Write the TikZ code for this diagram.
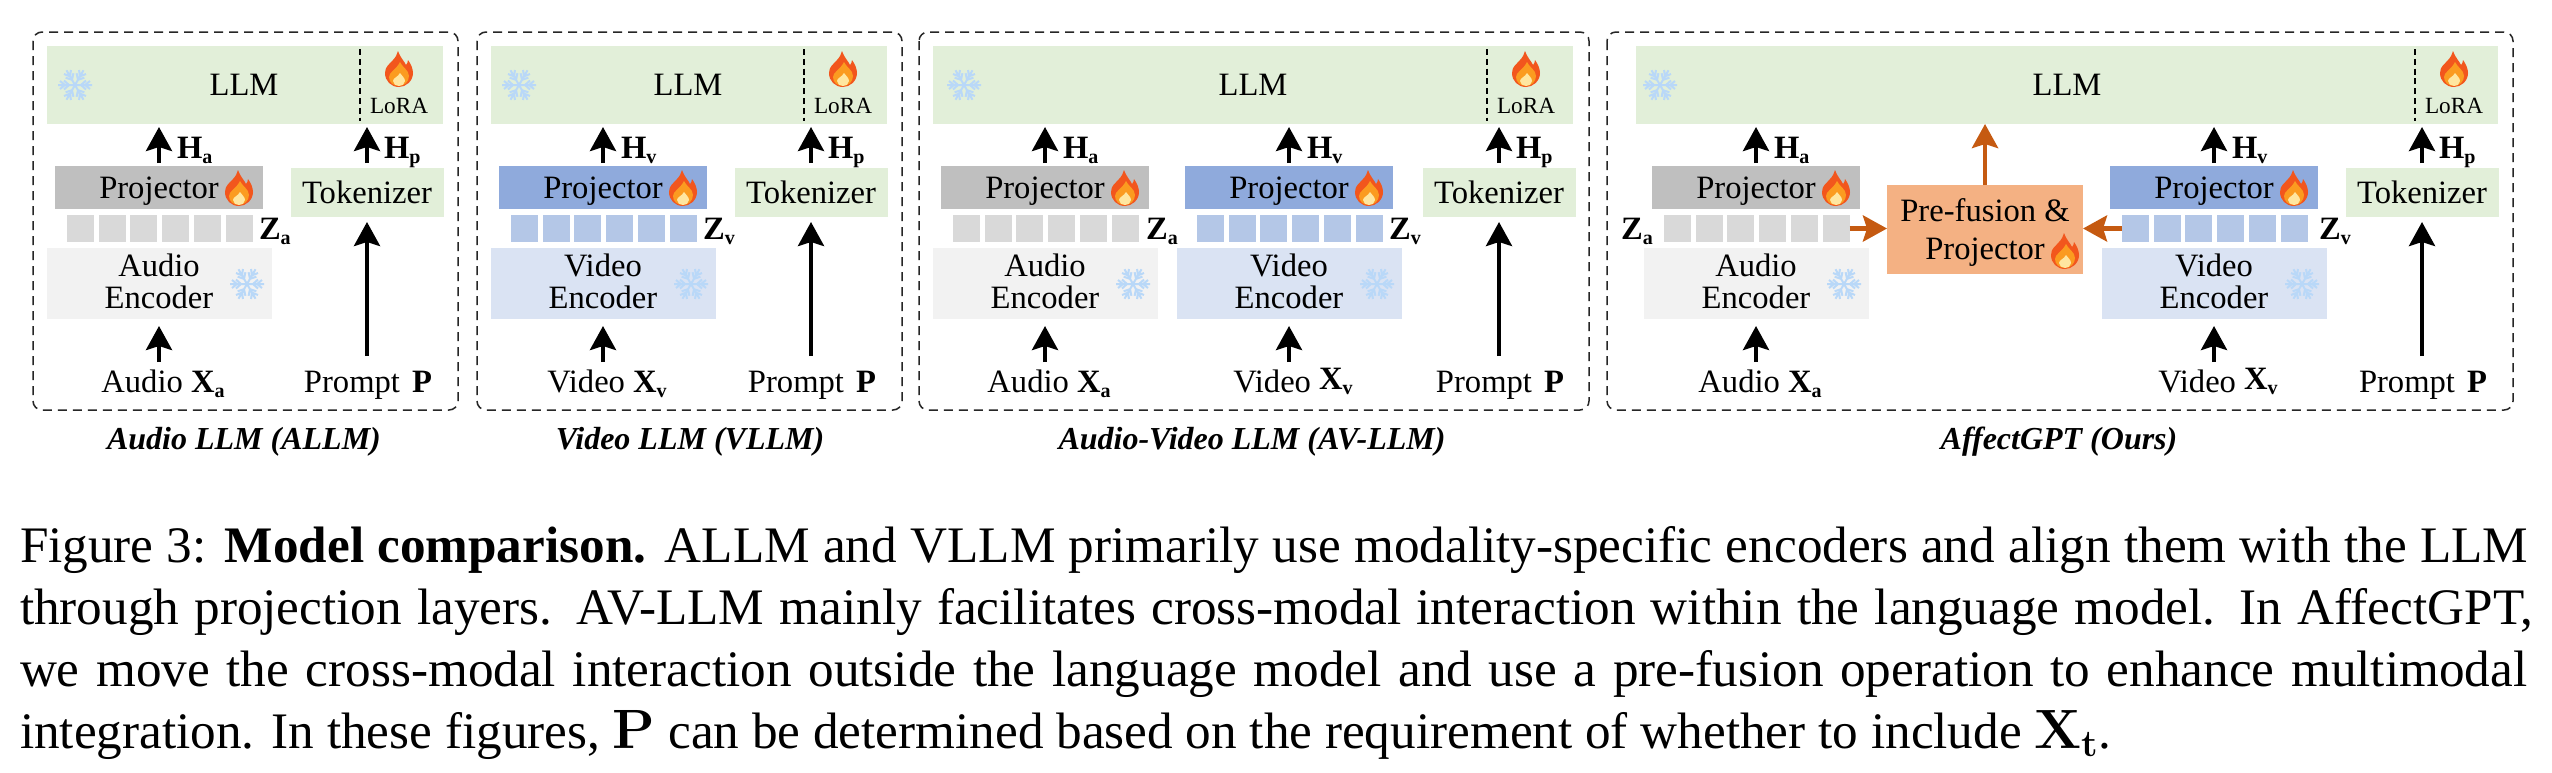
\documentclass[tikz,border=0pt]{standalone}
\usepackage{fontspec}
\setmainfont{Liberation Serif}
\newfontfamily\lmfam{Latin Modern Roman}
\usetikzlibrary{arrows.meta,calc}
\definecolor{llmC}{HTML}{E2EFD9}
\definecolor{projAC}{HTML}{BFBFBF}
\definecolor{sqAC}{HTML}{D9D9D9}
\definecolor{encAC}{HTML}{F2F2F2}
\definecolor{projVC}{HTML}{8FAADC}
\definecolor{sqVC}{HTML}{B4C7E7}
\definecolor{encVC}{HTML}{DAE3F3}
\definecolor{preC}{HTML}{F4B183}
\definecolor{arrC}{HTML}{C55A11}
\definecolor{snowC}{HTML}{B9D8F8}
\definecolor{fireA}{HTML}{F2561D}
\definecolor{fireB}{HTML}{FB9B20}
\definecolor{fireC}{HTML}{FFE6A0}
\tikzset{
  x=0.5pt,y=-0.5pt,
  boxn/.style={inner sep=0pt,outer sep=0pt,draw=none},
  txt/.style={inner sep=0pt,outer sep=0pt,anchor=base,font=\fontsize{16.3}{18}\selectfont,text height=11pt,text depth=3pt},
  lora/.style={txt,font=\fontsize{11.6}{13}\selectfont},
  sym/.style={inner sep=0pt,outer sep=0pt,anchor=base west,font=\fontsize{16.3}{18}\selectfont},
  title/.style={inner sep=0pt,outer sep=0pt,anchor=base,font=\fontsize{16}{18}\selectfont\bfseries\itshape},
  capl/.style={inner sep=0pt,outer sep=0pt,anchor=base west,font=\fontsize{25.6}{31}\selectfont},
  frame/.style={draw=black!85,line width=0.75pt,dash pattern=on 4.5pt off 3pt,rounded corners=4.5pt},
  sepl/.style={draw=black,line width=1.1pt,dash pattern=on 3pt off 1.9pt},
  arr/.style={draw=black,line width=2pt,-{Stealth[length=12pt,width=13pt,inset=2pt]}},
  oarr/.style={draw=arrC,line width=2.3pt,-{Stealth[length=12pt,width=13pt,inset=2pt]}},
  flame/.pic={
    \fill[fireA] (-1,-18) .. controls (2,-10) and (6,-7) .. (7,-4)
      .. controls (8,-5) and (9,-7) .. (9,-9)
      .. controls (12,-5) and (14,0) .. (14,4)
      .. controls (14,12) and (7,18) .. (0,18)
      .. controls (-8,18) and (-14,12) .. (-14,4)
      .. controls (-14,-3) and (-9,-5) .. (-6,-9)
      .. controls (-3,-12) and (-2,-15) .. (-1,-18) -- cycle;
    \fill[fireB] (1,-7) .. controls (3,-2) and (10,1) .. (10,7)
      .. controls (10,13) and (5,17) .. (0,17)
      .. controls (-6,17) and (-10,13) .. (-10,8)
      .. controls (-10,3) and (-3,1) .. (1,-7) -- cycle;
    \fill[fireC] (1,4) .. controls (3,7) and (6,9) .. (6,12)
      .. controls (6,15) and (3,17) .. (0,17)
      .. controls (-3,17) and (-6,15) .. (-6,12)
      .. controls (-6,9) and (-1,8) .. (1,4) -- cycle;
  },
  snow/.pic={
    \foreach \a in {0,60,...,300}{
      \draw[snowC,line width=1pt,rotate=\a]
        (0,0) -- (17,0)
        (6,0) -- (11,4.5) (6,0) -- (11,-4.5)
        (10,0) -- (15,4) (10,0) -- (15,-4);
    }
  }
}
\newcommand\lab[2]{\textbf{#1}\raisebox{-2.5pt}{\fontsize{10}{10}\selectfont\textbf{#2}}}
% prefix, x0, x1, text x, snow x, sep x, fire x
\newcommand\llmBar[7]{
  \pgfmathsetmacro\myW{#3-#2}
  \pgfmathsetmacro\myC{(#3+#2)/2}
  \def\curLLM{#1llm}
  \node[boxn,fill=llmC,minimum width=\myW*0.5pt,minimum height=39pt] (#1llm) at (\myC,85) {};
  \node[txt] (#1llmt) at (#4,95) {LLM};
  \pic at (#5,85) {snow};
  \draw[sepl] (#6,49) -- (#6,121);
  \pic at (#7,69) {flame};
  \node[lora] (#1lora) at (#7,113) {LoRA};
}
% prefix, centre, Z x, sub, word, tag, label shift
\newcommand\modBranch[7]{
  \node[boxn,fill=proj#6C,minimum width=104pt,minimum height=21.5pt] (#1proj) at (#2,187.5) {};
  \node[txt] (#1projt) at (#2,198) {Projector};
  \pic at ({#2+80},188) {flame};
  \foreach \i in {1,...,6}{
    \node[boxn,fill=sq#6C,minimum width=13.5pt,minimum height=13.5pt] (#1s\i) at ({#2-92+13.5+(\i-1)*31.7},228.5) {};
  }
  \node[sym] (#1z) at (#3,239) {\lab{Z}{#4}};
  \node[boxn,fill=enc#6C,minimum width=112.5pt,minimum height=35.5pt] (#1enc) at (#2,283.5) {};
  \node[txt] (#1ent) at (#2,276) {#5};
  \node[txt] (#1enb) at (#2,308) {Encoder};
  \pic at ({#2+88},284) {snow};
  \node[sym] (#1h) at ({#2+18},158) {\lab{H}{#4}};
  \node[txt] (#1in) at ({#2+4},392) {#5 \raisebox{#7pt}{\lab{X}{#4}}};
  \draw[arr,shorten <=4pt,shorten >=3.5pt] (#1in.north -| #1enc.south) -- (#1enc.south);
  \draw[arr,shorten <=1.5pt,shorten >=1.5pt] (#1proj.north) -- (#1proj.north |- \curLLM.south);
}
% prefix, centre
\newcommand\tokBranch[2]{
  \node[boxn,fill=llmC,minimum width=76.5pt,minimum height=24.5pt] (#1tok) at (#2,192.5) {};
  \node[txt] (#1tokt) at (#2,203) {Tokenizer};
  \node[sym] (#1hp) at ({#2+17},158) {\lab{H}{p}};
  \node[txt] (#1pr) at ({#2+1},392) {Prompt\hspace{2pt} \textbf{P}};
  \draw[arr,shorten <=7pt,shorten >=2.5pt] (#1pr.north -| #1tok.south) -- (#1tok.south);
  \draw[arr,shorten <=2.5pt,shorten >=1.5pt] (#1tok.north) -- (#1tok.north |- \curLLM.south);
}
\begin{document}
\begin{tikzpicture}
\useasboundingbox (0,0) rectangle (2552,772);
\fill[white] (0,0) rectangle (2552,772);
% frames
\draw[frame] (33,32) rectangle (458,410);
\draw[frame] (477,32) rectangle (902,410);
\draw[frame] (919,32) rectangle (1589,410);
\draw[frame] (1607,32) rectangle (2513,410);
% panel 1
\llmBar{pA}{47}{443}{244}{75}{360}{399}
\modBranch{pAa}{159}{259}{a}{Audio}{A}{0}
\tokBranch{pA}{367}
\node[title] (tA) at (244,449) {Audio LLM (ALLM)};
% panel 2
\llmBar{pB}{491}{887}{688}{519}{804}{843}
\modBranch{pBv}{603}{703}{v}{Video}{V}{0}
\tokBranch{pB}{811}
\node[title] (tB) at (690,449) {Video LLM (VLLM)};
% panel 3
\llmBar{pC}{933}{1573}{1253}{964}{1487}{1526}
\modBranch{pCa}{1045}{1146}{a}{Audio}{A}{0}
\modBranch{pCv}{1289}{1389}{v}{Video}{V}{1.5}
\tokBranch{pC}{1499}
\node[title] (tC) at (1252,449) {Audio-Video LLM (AV-LLM)};
% panel 4
\llmBar{pD}{1636}{2498}{2067}{1660}{2415}{2454}
\modBranch{pDa}{1756}{1621}{a}{Audio}{A}{0}
\modBranch{pDv}{2214}{2319}{v}{Video}{V}{1.5}
\tokBranch{pD}{2422}
\node[boxn,fill=preC,minimum width=98pt,minimum height=44.5pt] (pre) at (1985,229.5) {};
\node[txt] (pret1) at (1985,221) {Pre-fusion \&};
\node[txt] (pret2) at (1985,259) {Projector};
\pic at (2065,251) {flame};
\draw[oarr] (pre.north) -- (pre.north |- pDllm.south);
\draw[oarr] (pDas6.east) -- (pre.west |- pDas6.east);
\draw[oarr] (pDvs1.west) -- (pre.east |- pDvs1.west);
\node[title] (tD) at (2059,449) {AffectGPT (Ours)};
% caption
\node[capl] (c1) at (20,562) {\makebox[1254pt][s]{Figure 3: \textbf{Model comparison.} ALLM and VLLM primarily use modality-specific encoders and align them with the LLM}};
\node[capl] (c2) at (20,624) {\makebox[1256.5pt][s]{through projection layers. AV-LLM mainly facilitates cross-modal interaction within the language model. In AffectGPT,}};
\node[capl] (c3) at (20,686) {\makebox[1253.5pt][s]{we move the cross-modal interaction outside the language model and use a pre-fusion operation to enhance multimodal}};
\node[capl] (c4) at (20,748) {integration. In these figures, {\lmfam\bfseries\fontsize{27.7}{31}\selectfont P} can be determined based on the requirement of whether to include {\lmfam\bfseries\fontsize{27.7}{31}\selectfont X\raisebox{-4pt}{\fontsize{19}{20}\selectfont t}}.};
\end{tikzpicture}
\end{document}
